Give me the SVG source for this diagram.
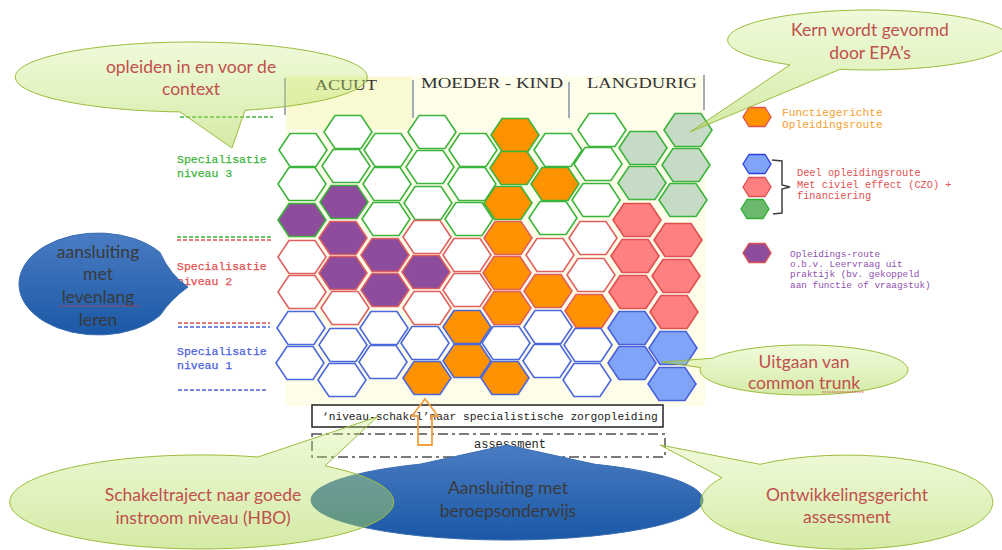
<svg xmlns="http://www.w3.org/2000/svg" width="1002" height="550" viewBox="0 0 1002 550">
<defs>
<polygon id="hx" points="-24,0 -13,-16.5 13,-16.5 24,0 13,16.5 -13,16.5"/>
<polygon id="lhx" points="-14,0 -8,-9.5 8,-9.5 14,0 8,9.5 -8,9.5"/>
<linearGradient id="gb" x1="0" y1="0" x2="0" y2="1">
<stop offset="0" stop-color="#c8ee80" stop-opacity="0.3"/>
<stop offset="1" stop-color="#a9d54a" stop-opacity="0.5"/>
</linearGradient>
<linearGradient id="bb" x1="0" y1="0" x2="0" y2="1">
<stop offset="0" stop-color="#4a7cc2"/>
<stop offset="1" stop-color="#1a58a6"/>
</linearGradient>
</defs>
<style>
.gw{fill:#fff;stroke:#3cb43c}
.rw{fill:#fff;stroke:#e06060}
.bw{fill:#fff;stroke:#4a68dc}
.gg{fill:#c6dbc6;stroke:#3cb43c}
.rf{fill:#ff8080;stroke:#e05050}
.bf{fill:#7fa4f8;stroke:#4a60dc}
.pg{fill:#8e4c9c;stroke:#3cb43c}
.pr{fill:#8e4c9c;stroke:#e06060}
.og{fill:#ff9200;stroke:#3cb43c}
.or{fill:#ff9200;stroke:#e06060}
.ob{fill:#ff9200;stroke:#4a68dc}
#grid use{stroke-width:1.6}
.hd{font-family:"Liberation Serif",serif;font-size:15px;fill:#333}
.lv{font-family:"Liberation Mono",monospace;font-size:11.5px;stroke-width:0.25}
.mono{font-family:"Liberation Mono",monospace;fill:#222}
.bub{fill:url(#gb);stroke:#9cbc3c;stroke-width:1}
.bt{font-family:Lato,"Open Sans",sans-serif;font-size:17.5px;fill:#c0504d;text-anchor:middle}
.bbt{font-family:Lato,"Open Sans",sans-serif;font-size:17.5px;fill:#3a3a3a;text-anchor:middle}
.dl{stroke-width:1.3;stroke-dasharray:4 2}
.wavy{stroke:#d04040;stroke-width:1;stroke-dasharray:1.5 1;fill:none}
</style>

<!-- background of grid -->
<rect x="285" y="76" width="420" height="330" fill="#fdfdea"/>
<rect x="287" y="77" width="126" height="52" fill="#f9f9d2"/>
<g stroke="#a4acb4" stroke-width="2">
<line x1="285" y1="78" x2="285" y2="115"/>
<line x1="413" y1="80" x2="413" y2="118"/>
<line x1="569" y1="82" x2="569" y2="118"/>
<line x1="704" y1="75" x2="704" y2="110"/>
</g>
<text class="hd" x="315" y="90" textLength="62" lengthAdjust="spacingAndGlyphs">ACUUT</text>
<text class="hd" x="421" y="88" textLength="142" lengthAdjust="spacingAndGlyphs">MOEDER - KIND</text>
<text class="hd" x="587" y="88" textLength="110" lengthAdjust="spacingAndGlyphs">LANGDURIG</text>

<!-- level labels and dashed lines -->
<g id="levels">
<line class="dl" x1="180" y1="117" x2="273" y2="117" stroke="#3cb43c"/>
<line class="dl" x1="177" y1="237" x2="272" y2="237" stroke="#3cb43c"/>
<line class="dl" x1="177" y1="240" x2="272" y2="240" stroke="#e05050"/>
<line class="dl" x1="178" y1="323" x2="270" y2="323" stroke="#e05050"/>
<line class="dl" x1="178" y1="327" x2="270" y2="327" stroke="#4a60dc"/>
<line class="dl" x1="178" y1="390" x2="268" y2="390" stroke="#4a60dc"/>
<text class="lv" x="177" y="163" fill="#3cb43c" stroke="#3cb43c">Specialisatie</text>
<text class="lv" x="177" y="177" fill="#3cb43c" stroke="#3cb43c">niveau 3</text>
<text class="lv" x="177" y="270" fill="#e05050" stroke="#e05050">Specialisatie</text>
<text class="lv" x="177" y="285" fill="#e05050" stroke="#e05050">niveau 2</text>
<text class="lv" x="177" y="355" fill="#4a60dc" stroke="#4a60dc">Specialisatie</text>
<text class="lv" x="177" y="369" fill="#4a60dc" stroke="#4a60dc">niveau 1</text>
</g>

<!-- hex grid -->
<g id="grid">
<use href="#hx" x="303" y="150" class="gw"/>
<use href="#hx" x="302" y="184" class="gw"/>
<use href="#hx" x="302" y="220" class="pg"/>
<use href="#hx" x="302" y="257" class="rw"/>
<use href="#hx" x="302" y="292" class="rw"/>
<use href="#hx" x="301" y="328" class="bw"/>
<use href="#hx" x="300" y="363" class="bw"/>

<use href="#hx" x="348" y="132" class="gw"/>
<use href="#hx" x="346" y="166" class="gw"/>
<use href="#hx" x="344" y="202" class="pg"/>
<use href="#hx" x="343" y="238" class="pr"/>
<use href="#hx" x="343" y="273" class="pr"/>
<use href="#hx" x="345" y="308" class="rw"/>
<use href="#hx" x="343" y="345" class="bw"/>
<use href="#hx" x="342" y="380" class="bw"/>

<use href="#hx" x="388" y="150" class="gw"/>
<use href="#hx" x="387" y="184" class="gw"/>
<use href="#hx" x="386" y="219" class="gw"/>
<use href="#hx" x="385" y="255" class="pr"/>
<use href="#hx" x="385" y="290" class="pr"/>
<use href="#hx" x="384" y="328" class="bw"/>
<use href="#hx" x="383" y="362" class="bw"/>

<use href="#hx" x="432" y="132" class="gw"/>
<use href="#hx" x="430" y="167" class="gw"/>
<use href="#hx" x="428" y="203" class="gw"/>
<use href="#hx" x="427" y="237" class="rw"/>
<use href="#hx" x="426" y="272" class="pr"/>
<use href="#hx" x="427" y="308" class="rw"/>
<use href="#hx" x="425" y="343" class="bw"/>
<use href="#hx" x="427" y="378" class="ob"/>

<use href="#hx" x="473" y="150" class="gw"/>
<use href="#hx" x="472" y="184" class="gw"/>
<use href="#hx" x="469" y="219" class="gw"/>
<use href="#hx" x="467" y="255" class="rw"/>
<use href="#hx" x="467" y="290" class="rw"/>
<use href="#hx" x="467" y="327" class="ob"/>
<use href="#hx" x="467" y="361" class="ob"/>

<use href="#hx" x="515" y="135" class="og"/>
<use href="#hx" x="514" y="168" class="og"/>
<use href="#hx" x="508" y="203" class="og"/>
<use href="#hx" x="508" y="238" class="or"/>
<use href="#hx" x="507" y="273" class="or"/>
<use href="#hx" x="507" y="308" class="or"/>
<use href="#hx" x="506" y="343" class="bw"/>
<use href="#hx" x="505" y="378" class="ob"/>

<use href="#hx" x="558" y="150" class="gw"/>
<use href="#hx" x="555" y="184" class="og"/>
<use href="#hx" x="553" y="218" class="gw"/>
<use href="#hx" x="550" y="255" class="rw"/>
<use href="#hx" x="548" y="291" class="or"/>
<use href="#hx" x="548" y="327" class="bw"/>
<use href="#hx" x="547" y="361" class="bw"/>

<use href="#hx" x="602" y="130" class="gw"/>
<use href="#hx" x="598" y="164" class="gw"/>
<use href="#hx" x="596" y="200" class="gw"/>
<use href="#hx" x="593" y="238" class="rw"/>
<use href="#hx" x="591" y="275" class="rw"/>
<use href="#hx" x="589" y="311" class="or"/>
<use href="#hx" x="588" y="345" class="bw"/>
<use href="#hx" x="587" y="380" class="bw"/>

<use href="#hx" x="643" y="148" class="gg"/>
<use href="#hx" x="642" y="183" class="gg"/>
<use href="#hx" x="637" y="220" class="rf"/>
<use href="#hx" x="635" y="256" class="rf"/>
<use href="#hx" x="633" y="292" class="rf"/>
<use href="#hx" x="632" y="328" class="bf"/>
<use href="#hx" x="632" y="363" class="bf"/>

<use href="#hx" x="688" y="130" class="gg"/>
<use href="#hx" x="686" y="165" class="gg"/>
<use href="#hx" x="683" y="200" class="gg"/>
<use href="#hx" x="678" y="240" class="rf"/>
<use href="#hx" x="676" y="276" class="rf"/>
<use href="#hx" x="674" y="312" class="rf"/>
<use href="#hx" x="673" y="348" class="bf"/>
<use href="#hx" x="672" y="384" class="bf"/>
</g>

<!-- legend -->
<g id="legend">
<use href="#lhx" x="757" y="117" fill="#ff9200" stroke="#e05050" stroke-width="1.3"/>
<text class="mono" x="782" y="116" font-size="11.2" style="fill:#f5a030">Functiegerichte</text>
<text class="mono" x="782" y="128" font-size="11.2" style="fill:#f5a030">Opleidingsroute</text>
<use href="#lhx" x="757" y="164" fill="#7fa4f8" stroke="#3040e0" stroke-width="1.3"/>
<use href="#lhx" x="757" y="187" fill="#ff8080" stroke="#e05050" stroke-width="1.3"/>
<use href="#lhx" x="755" y="209" fill="#6cb86c" stroke="#30b030" stroke-width="1.3"/>
<path d="M772 160 L782 161 L782 185 L790 187 L782 189 L782 213 L773 214" fill="none" stroke="#404040" stroke-width="1.5"/>
<text class="mono" x="797" y="176" font-size="10.3" style="fill:#e05050">Deel opleidingsroute</text>
<text class="mono" x="797" y="188" font-size="10.3" style="fill:#e05050">Met civiel effect (CZO) +</text>
<text class="mono" x="797" y="199" font-size="10.3" style="fill:#e05050">financiering</text>
<use href="#lhx" x="757" y="253" fill="#8e4c9c" stroke="#e05050" stroke-width="1.3"/>
<text class="mono" x="790" y="257" font-size="9.4" style="fill:#9050b0">Opleidings-route</text>
<text class="mono" x="790" y="267" font-size="9.4" style="fill:#9050b0">o.b.v. Leervraag uit</text>
<text class="mono" x="790" y="277" font-size="9.4" style="fill:#9050b0">praktijk (bv. gekoppeld</text>
<text class="mono" x="790" y="288" font-size="9.4" style="fill:#9050b0">aan functie of vraagstuk)</text>
</g>

<!-- bottom boxes -->
<g id="schakel">
<rect x="312" y="405" width="351" height="22" fill="#fff" stroke="#222" stroke-width="1.5"/>
<text class="mono" x="322" y="420" font-size="11.2">‘niveau-schakel’naar specialistische zorgopleiding</text>
</g>
<g id="assessment">
<rect x="312" y="434" width="353" height="23" fill="none" stroke="#505050" stroke-width="1.5" stroke-dasharray="10 4 3 4"/>
<text class="mono" x="510" y="448" font-size="12" text-anchor="middle">assessment</text>
</g>
<g id="connectors">
<polygon points="425,399 438,416 432,416 432,445 418,445 418,416 412,416" fill="none" stroke="#f0a040" stroke-width="1.8"/>
</g>

<!-- callouts -->
<g id="aansluiting-beroep">
<path d="M420 464.2 L507 445 L595 464.3 A196 40 0 1 1 420 464.2 Z" fill="url(#bb)" stroke="#3a6cb0" stroke-width="1"/>
<text class="bbt" x="508" y="494">Aansluiting met</text>
<text class="bbt" x="508" y="517">beroepsonderwijs</text>
</g>
<g id="schakeltraject">
<path class="bub" d="M258 457 L377 417 L325 465.9 A192 47 0 1 1 258 457 Z"/>
<text class="bt" x="203" y="501">Schakeltraject naar goede</text>
<text class="bt" x="203" y="524">instroom niveau (HBO)</text>
</g>
<g id="ontwikkelingsgericht">
<path class="bub" d="M760 464.3 L660 445 L722 477.7 A146 47 0 1 0 760 464.3 Z"/>
<text class="bt" x="847" y="501">Ontwikkelingsgericht</text>
<text class="bt" x="847" y="523">assessment</text>
</g>
<g id="common-trunk">
<path class="bub" d="M712 358.3 L662 362 L700.5 367.5 A104 25 0 1 0 712 358.3 Z"/>
<text class="bt" x="804" y="368">Uitgaan van</text>
<text class="bt" x="804" y="389">common trunk</text>
<path class="wavy" d="M822 392 L864 392"/>
</g>
<g id="context">
<path class="bub" d="M245 110.3 L232 148 L180 111.9 A176 35 0 1 1 245 110.3 Z"/>
<text class="bt" x="191" y="73">opleiden in en voor de</text>
<text class="bt" x="191" y="95">context</text>
</g>
<g id="kern">
<path class="bub" d="M840 69.3 L690 132 L790 64.8 A142 30 0 1 1 840 69.3 Z"/>
<text class="bt" x="870" y="36">Kern wordt gevormd</text>
<text class="bt" x="870" y="59">door EPA’s</text>
</g>
<g id="levenlang">
<path d="M160 252.4 Q170 275 188 287 Q170 300 160 315.6 A79 51 0 1 1 160 252.4 Z" fill="url(#bb)" stroke="#3a6cb0" stroke-width="1"/>
<text class="bbt" x="98" y="258">aansluiting</text>
<text class="bbt" x="98" y="280">met</text>
<text class="bbt" x="98" y="303">levenlang</text>
<text class="bbt" x="98" y="326">leren</text>
<path class="wavy" d="M59 306 L140 306"/>
</g>
</svg>
